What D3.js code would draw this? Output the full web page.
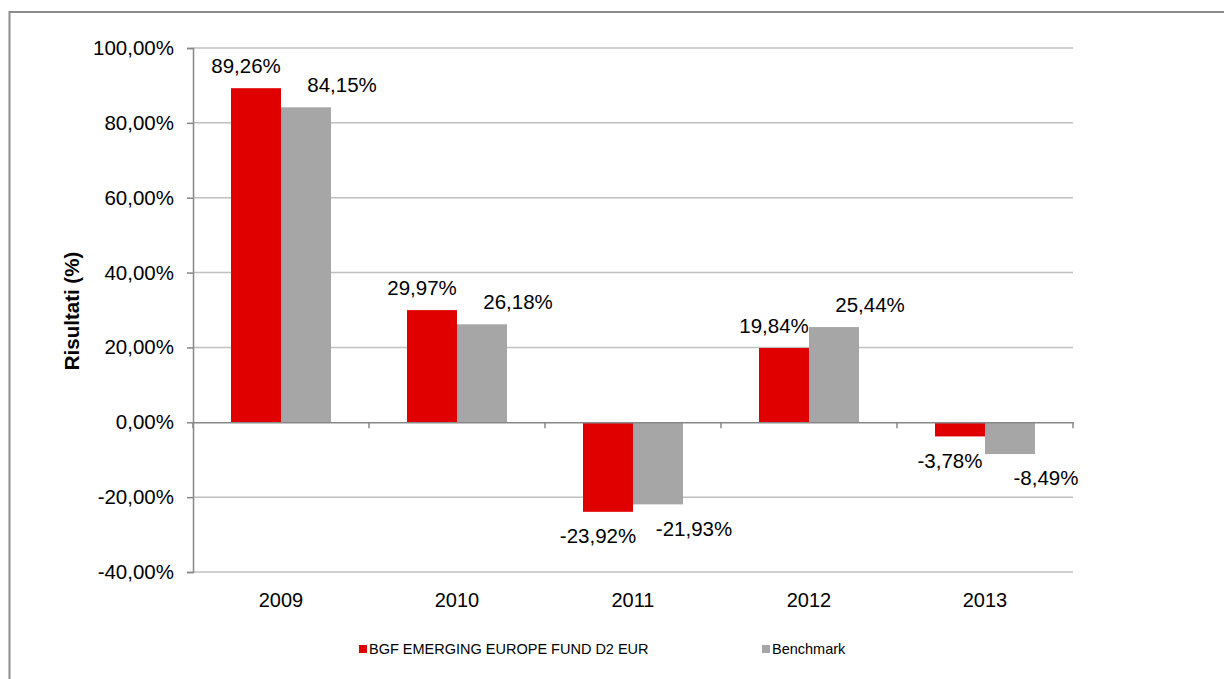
<!DOCTYPE html>
<html><head><meta charset="utf-8">
<script src="https://cdn.jsdelivr.net/npm/d3@7"></script>
<style>body{margin:0;background:#fff;}svg{display:block;font-family:"Liberation Sans",Arial,sans-serif;}</style>
</head><body>
<svg id="c" width="1224" height="679"></svg>
<script>
const years = ["2009","2010","2011","2012","2013"];
const seriesNames = ["BGF EMERGING EUROPE FUND D2 EUR","Benchmark"];
const fundValues = [89.26, 29.97, -23.92, 19.84, -3.78];
const benchValues = [84.15, 26.18, -21.93, 25.44, -8.49];
const yTicks = [-40,-20,0,20,40,60,80,100];
const colors = ["#E00000","#A6A6A6"];

const svg = d3.select("#c");
const M = {left:193, right:1073, top:48, bottom:572};

// outer frame
svg.append("rect").attr("x",9.5).attr("y",12).attr("width",1300).attr("height",800)
  .attr("fill","none").attr("stroke","#8c8c8c").attr("stroke-width",2);

const y = d3.scaleLinear().domain([-40,100]).range([M.bottom,M.top]);
const x0 = d3.scaleBand().domain(years).range([M.left,M.right]).padding(0);
const x1 = d3.scaleBand().domain(seriesNames).range([0,x0.bandwidth()]).paddingInner(0).paddingOuter(0.76);

const fmt = v => (v<0?"-":"") + d3.format(".2f")(Math.abs(v)).replace(".",",") + "%";

// gridlines
svg.append("g").selectAll("line").data(yTicks.filter(t=>t!==0)).join("line")
  .attr("x1",M.left).attr("x2",M.right).attr("y1",d=>y(d)).attr("y2",d=>y(d))
  .attr("stroke","#c0c0c0").attr("stroke-width",1.5);

// y axis
const yAxis = d3.axisLeft(y).tickValues(yTicks).tickSize(6).tickPadding(13).tickFormat(v=>fmt(v));
const gy = svg.append("g").attr("transform",`translate(${M.left},0)`).call(yAxis);
gy.select(".domain").attr("stroke","#888").attr("stroke-width",1.5);
gy.selectAll(".tick line").attr("stroke","#888").attr("stroke-width",1.5);
gy.selectAll(".tick text").attr("font-size","20.5px").attr("fill","#000").attr("font-family","Liberation Sans, Arial, sans-serif");

// bars
const data = years.map((yr,i)=>({year:yr, vals:[fundValues[i], benchValues[i]]}));
const groups = svg.append("g").selectAll("g").data(data).join("g")
  .attr("transform",d=>`translate(${x0(d.year)},0)`);
groups.selectAll("rect").data(d=>d.vals.map((v,j)=>({v, s:seriesNames[j], j}))).join("rect")
  .attr("x",d=>x1(d.s)).attr("width",x1.bandwidth())
  .attr("y",d=>y(Math.max(0,d.v))).attr("height",d=>Math.abs(y(d.v)-y(0)))
  .attr("fill",d=>colors[d.j]);

// zero axis with category ticks
const xAxis = d3.axisBottom(x0).tickSize(0).tickFormat("");
const gx = svg.append("g").attr("transform",`translate(0,${y(0)})`).call(xAxis);
gx.select(".domain").attr("stroke","#888").attr("stroke-width",1.5);
svg.append("g").selectAll("line").data(years.concat(["end"])).join("line")
  .attr("x1",(d,i)=>i<years.length? x0(d): M.right).attr("x2",(d,i)=>i<years.length? x0(d): M.right)
  .attr("y1",y(0)).attr("y2",y(0)+6).attr("stroke","#888").attr("stroke-width",1.5);

// year labels
svg.append("g").selectAll("text").data(years).join("text")
  .attr("x",d=>x0(d)+x0.bandwidth()/2).attr("y",607)
  .attr("text-anchor","middle").attr("font-size","20px").attr("fill","#000").text(d=>d);

// data labels
const labelDx = [-10, 36];
groups.selectAll("text").data(d=>d.vals.map((v,j)=>({v, s:seriesNames[j], j}))).join("text")
  .attr("x",d=>x1(d.s)+x1.bandwidth()/2+labelDx[d.j])
  .attr("y",d=>y(d.v) + (d.v>=0 ? -22 : 24))
  .attr("dy","0.35em")
  .attr("text-anchor","middle").attr("font-size","20.5px").attr("fill","#000")
  .text(d=>fmt(d.v));

// y title
svg.append("text").attr("transform","translate(79,311) rotate(-90)")
  .attr("text-anchor","middle").attr("font-size","20.5px").attr("font-weight","bold").attr("fill","#000")
  .text("Risultati (%)");

// legend
const legX = [359, 762];
const leg = svg.append("g").selectAll("g").data(seriesNames).join("g")
  .attr("transform",(d,i)=>`translate(${legX[i]},645)`);
leg.append("rect").attr("width",8).attr("height",8).attr("fill",(d,i)=>colors[i]);
leg.append("text").attr("x",10).attr("y",9).attr("font-size","14.5px").attr("fill","#000").text(d=>d);
</script>
</body></html>
